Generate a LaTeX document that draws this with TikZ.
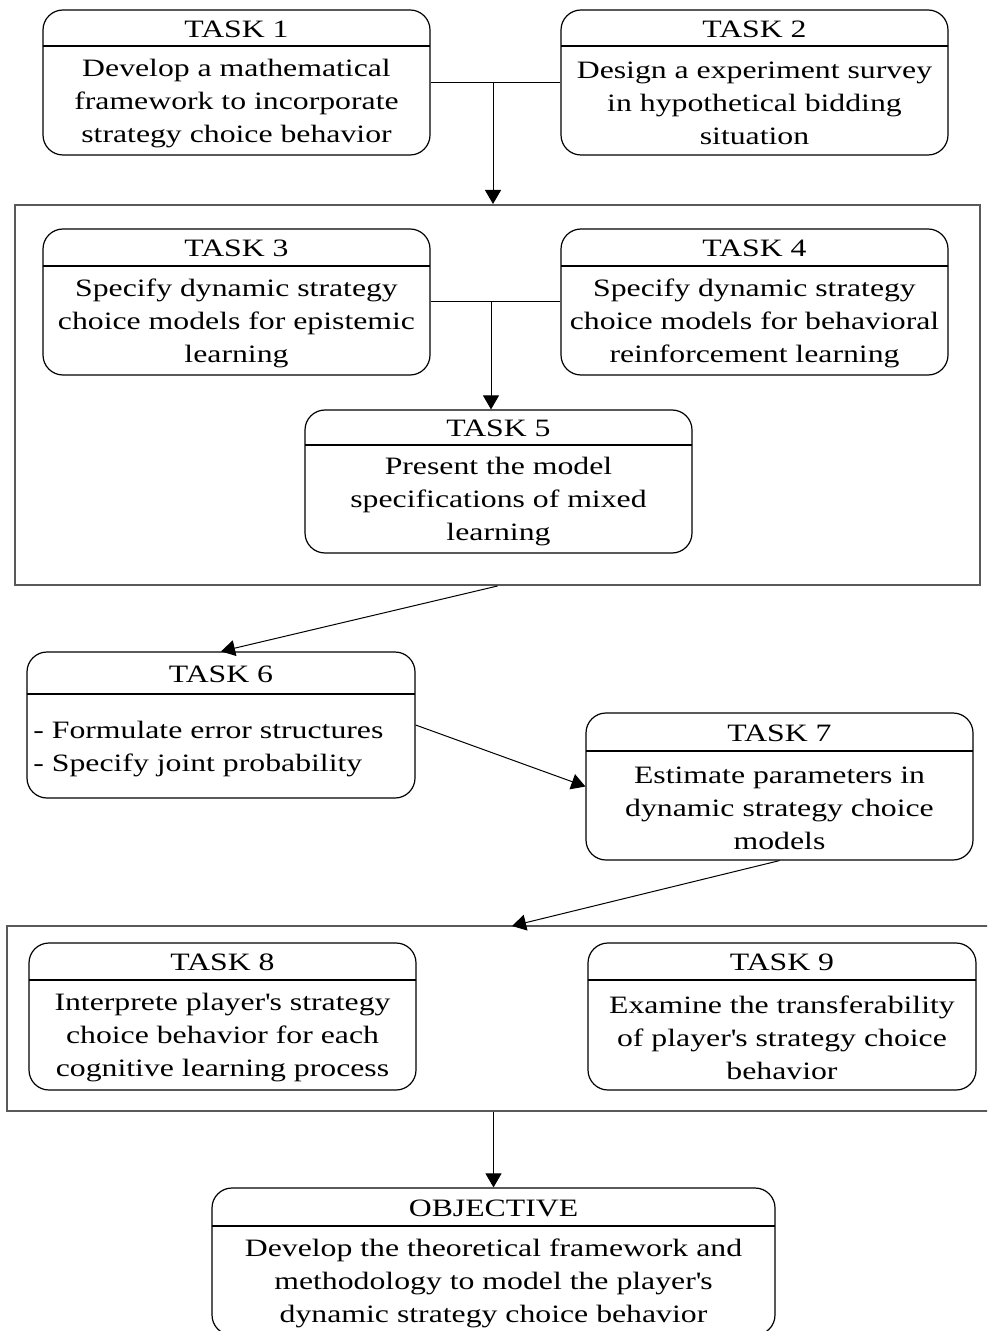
\documentclass[tikz,border=0pt]{standalone}
\usepackage{fontspec}
\setmainfont[FakeStretch=1.27]{Liberation Serif}
\usetikzlibrary{arrows.meta,fit}

% box with a title row: name, left, top, right, bottom, title line, title, body
\newcommand{\taskbox}[8]{%
  \node[taskframe, fit={(#2,#3) (#4,#5)}] (#1) {};
  \draw[taskline] (#2,#6) -- (#4,#6);
  \node[tasktext] (#1title) at ({(#2+#4)/2},{(#3+#6)/2+1}) {#7};
  \node[tasktext] (#1body) at ({(#2+#4)/2},{(#6+#5)/2+3}) {#8};
}

\begin{document}
\begin{tikzpicture}[x=0.5pt, y=-0.5pt,
    taskframe/.style = {draw, line width=0.6pt, rounded corners=10pt, inner sep=0pt},
    taskline/.style  = {line width=0.6pt},
    tasktext/.style  = {font=\fontsize{12.5}{16.5}\selectfont, align=center, inner sep=0pt},
    group/.style     = {draw=black!65, line width=1pt, inner sep=0pt},
    conn/.style      = {line width=0.5pt},
    arrow/.style     = {conn, -{Triangle[length=7pt,width=8pt]}}]
    \useasboundingbox (0,0) rectangle (987,1331);
    \clip (0,0) rectangle (987,1331);

    % groups
    \node[group, fit={(15,205) (980,585)}]   (g1) {};
    \node[group, fit={(7,926) (1017,1111)}]  (g2) {};

    % tasks
    \taskbox{t1}{43}{10}{430}{155}{46}{TASK 1}{Develop a mathematical\\framework to incorporate\\strategy choice behavior}
    \taskbox{t2}{561}{10}{948}{155}{46}{TASK 2}{Design a experiment survey\\in hypothetical bidding\\situation}
    \taskbox{t3}{43}{229}{430}{375}{266}{TASK 3}{Specify dynamic strategy\\choice models for epistemic\\learning}
    \taskbox{t4}{561}{229}{948}{375}{266}{TASK 4}{Specify dynamic strategy\\choice models for behavioral\\reinforcement learning}
    \taskbox{t5}{305}{410}{692}{553}{445}{TASK 5}{Present the model\\specifications of mixed\\learning}
    \node[taskframe, fit={(27,652) (415,798)}] (t6) {};
    \draw[taskline] (27,694) -- (415,694);
    \node[tasktext] (t6title) at (221,674) {TASK 6};
    \node[tasktext, align=left, anchor=west] (t6body) at (33,749) {- Formulate error structures\\- Specify joint probability};
    \taskbox{t7}{586}{713}{973}{860}{751}{TASK 7}{Estimate parameters in\\dynamic strategy choice\\models}
    \taskbox{t8}{29}{943}{416}{1090}{980}{TASK 8}{Interprete player\textquotesingle s strategy\\choice behavior for each\\cognitive learning process}
    \taskbox{t9}{588}{943}{976}{1090}{980}{TASK 9}{Examine the transferability\\of player\textquotesingle s strategy choice\\behavior}
    \taskbox{obj}{212}{1188}{775}{1335}{1226}{OBJECTIVE}{Develop the theoretical framework and\\methodology to model the player\textquotesingle s\\dynamic strategy choice behavior}

    % connectors
    \coordinate (j1) at (493,82.5);
    \coordinate (j2) at (491,302);
    \coordinate (g2in) at (512,926);
    \draw[conn]  (t1.east) -- (t2.west);
    \draw[arrow] (j1) -- (j1 |- g1.north);
    \draw[conn]  (t3.east) -- (t4.west);
    \draw[arrow] (j2) -- (j2 |- t5.north);
    \draw[arrow] (g1.south) -- (t6.north);
    \draw[arrow] (t6.east) -- (t7.west);
    \draw[arrow] (t7.south) -- (g2in);
    \draw[arrow] (obj.north |- g2.south) -- (obj.north);
\end{tikzpicture}
\end{document}
